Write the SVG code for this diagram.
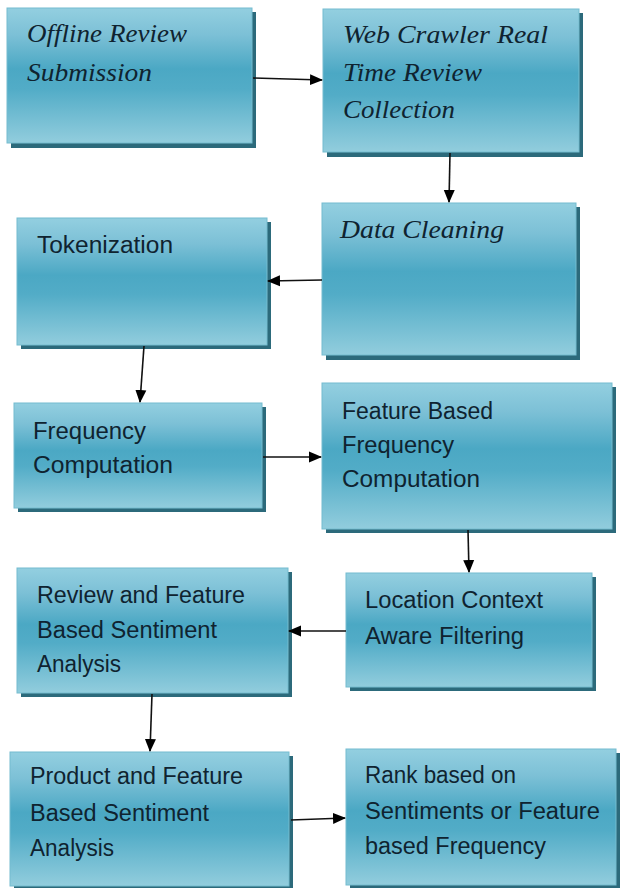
<svg xmlns="http://www.w3.org/2000/svg" width="626" height="888" viewBox="0 0 626 888">
<defs>
<linearGradient id="g" x1="0" y1="0" x2="0" y2="1">
<stop offset="0" stop-color="#93cfe0"/>
<stop offset="0.2" stop-color="#7cc0d6"/>
<stop offset="0.45" stop-color="#4ba8c4"/>
<stop offset="0.6" stop-color="#52acc7"/>
<stop offset="1" stop-color="#92cddd"/>
</linearGradient>
<marker id="ah" markerWidth="13" markerHeight="13" refX="12" refY="6.5" orient="auto" markerUnits="userSpaceOnUse">
<path d="M0,1 L13,6.5 L0,12 Z" fill="#000"/>
</marker>
<style>
.box{fill:url(#g);stroke:#74bccf;stroke-width:1}
.sh{fill:#2c6a7b}
.serif{font-family:"Liberation Serif","DejaVu Serif",serif;font-style:italic;font-size:25px;fill:#0f2330}
.sans{font-family:"Liberation Sans","DejaVu Sans",sans-serif;font-size:23px;fill:#0f2330}
.conn{stroke:#111;stroke-width:1.6;fill:none;marker-end:url(#ah)}
</style>
</defs>
<rect width="626" height="888" fill="#fff"/>

<g id="n1">
<rect class="sh" x="11" y="12" width="245" height="136"/>
<rect class="box" x="7" y="8" width="245" height="135"/>
<text class="serif" x="27" y="42" textLength="160" lengthAdjust="spacingAndGlyphs">Offline Review</text>
<text class="serif" x="27" y="81" textLength="125" lengthAdjust="spacingAndGlyphs">Submission</text>
</g>

<g id="n2">
<rect class="sh" x="327" y="13" width="256" height="144"/>
<rect class="box" x="323" y="9" width="256" height="143"/>
<text class="serif" x="343" y="43" textLength="205" lengthAdjust="spacingAndGlyphs">Web Crawler Real</text>
<text class="serif" x="343" y="81" textLength="139" lengthAdjust="spacingAndGlyphs">Time Review</text>
<text class="serif" x="343" y="118" textLength="112" lengthAdjust="spacingAndGlyphs">Collection</text>
</g>

<g id="n3">
<rect class="sh" x="326" y="207" width="254" height="153"/>
<rect class="box" x="322" y="203" width="254" height="152"/>
<text class="serif" x="340" y="238" textLength="164" lengthAdjust="spacingAndGlyphs">Data Cleaning</text>
</g>

<g id="n4">
<rect class="sh" x="21" y="222" width="250" height="127"/>
<rect class="box" x="17" y="218" width="250" height="127"/>
<text class="sans" x="37" y="253" textLength="136" lengthAdjust="spacingAndGlyphs">Tokenization</text>
</g>

<g id="n5">
<rect class="sh" x="18" y="407" width="248" height="105"/>
<rect class="box" x="14" y="403" width="248" height="105"/>
<text class="sans" x="33" y="439" textLength="113" lengthAdjust="spacingAndGlyphs">Frequency</text>
<text class="sans" x="33" y="473" textLength="140" lengthAdjust="spacingAndGlyphs">Computation</text>
</g>

<g id="n6">
<rect class="sh" x="326" y="387" width="290" height="146"/>
<rect class="box" x="322" y="383" width="290" height="146"/>
<text class="sans" x="342" y="419" textLength="151" lengthAdjust="spacingAndGlyphs">Feature Based</text>
<text class="sans" x="342" y="453" textLength="112" lengthAdjust="spacingAndGlyphs">Frequency</text>
<text class="sans" x="342" y="487" textLength="138" lengthAdjust="spacingAndGlyphs">Computation</text>
</g>

<g id="n7">
<rect class="sh" x="350" y="577" width="246" height="114"/>
<rect class="box" x="346" y="573" width="246" height="114"/>
<text class="sans" x="365" y="608" textLength="178" lengthAdjust="spacingAndGlyphs">Location Context</text>
<text class="sans" x="365" y="644" textLength="159" lengthAdjust="spacingAndGlyphs">Aware Filtering</text>
</g>

<g id="n8">
<rect class="sh" x="21" y="572" width="271" height="125"/>
<rect class="box" x="17" y="568" width="271" height="125"/>
<text class="sans" x="37" y="603" textLength="208" lengthAdjust="spacingAndGlyphs">Review and Feature</text>
<text class="sans" x="37" y="638" textLength="180" lengthAdjust="spacingAndGlyphs">Based Sentiment</text>
<text class="sans" x="37" y="672" textLength="84" lengthAdjust="spacingAndGlyphs">Analysis</text>
</g>

<g id="n9">
<rect class="sh" x="14" y="756" width="279" height="136"/>
<rect class="box" x="10" y="752" width="279" height="134"/>
<text class="sans" x="30" y="784" textLength="213" lengthAdjust="spacingAndGlyphs">Product and Feature</text>
<text class="sans" x="30" y="821" textLength="179" lengthAdjust="spacingAndGlyphs">Based Sentiment</text>
<text class="sans" x="30" y="856" textLength="84" lengthAdjust="spacingAndGlyphs">Analysis</text>
</g>

<g id="n10">
<rect class="sh" x="350" y="753" width="270" height="140"/>
<rect class="box" x="346" y="749" width="270" height="136"/>
<text class="sans" x="365" y="783" textLength="151" lengthAdjust="spacingAndGlyphs">Rank based on</text>
<text class="sans" x="365" y="819" textLength="235" lengthAdjust="spacingAndGlyphs">Sentiments or Feature</text>
<text class="sans" x="365" y="854" textLength="181" lengthAdjust="spacingAndGlyphs">based Frequency</text>
</g>

<g id="connectors">
<line class="conn" x1="253" y1="78" x2="322" y2="80"/>
<line class="conn" x1="450" y1="153" x2="449" y2="202"/>
<line class="conn" x1="322" y1="280" x2="268" y2="281"/>
<line class="conn" x1="144" y1="346" x2="140" y2="402"/>
<line class="conn" x1="263" y1="457" x2="321" y2="457"/>
<line class="conn" x1="468" y1="530" x2="469" y2="572"/>
<line class="conn" x1="346" y1="631" x2="289" y2="631"/>
<line class="conn" x1="152" y1="694" x2="150" y2="751"/>
<line class="conn" x1="291" y1="820" x2="345" y2="818"/>
</g>
</svg>
